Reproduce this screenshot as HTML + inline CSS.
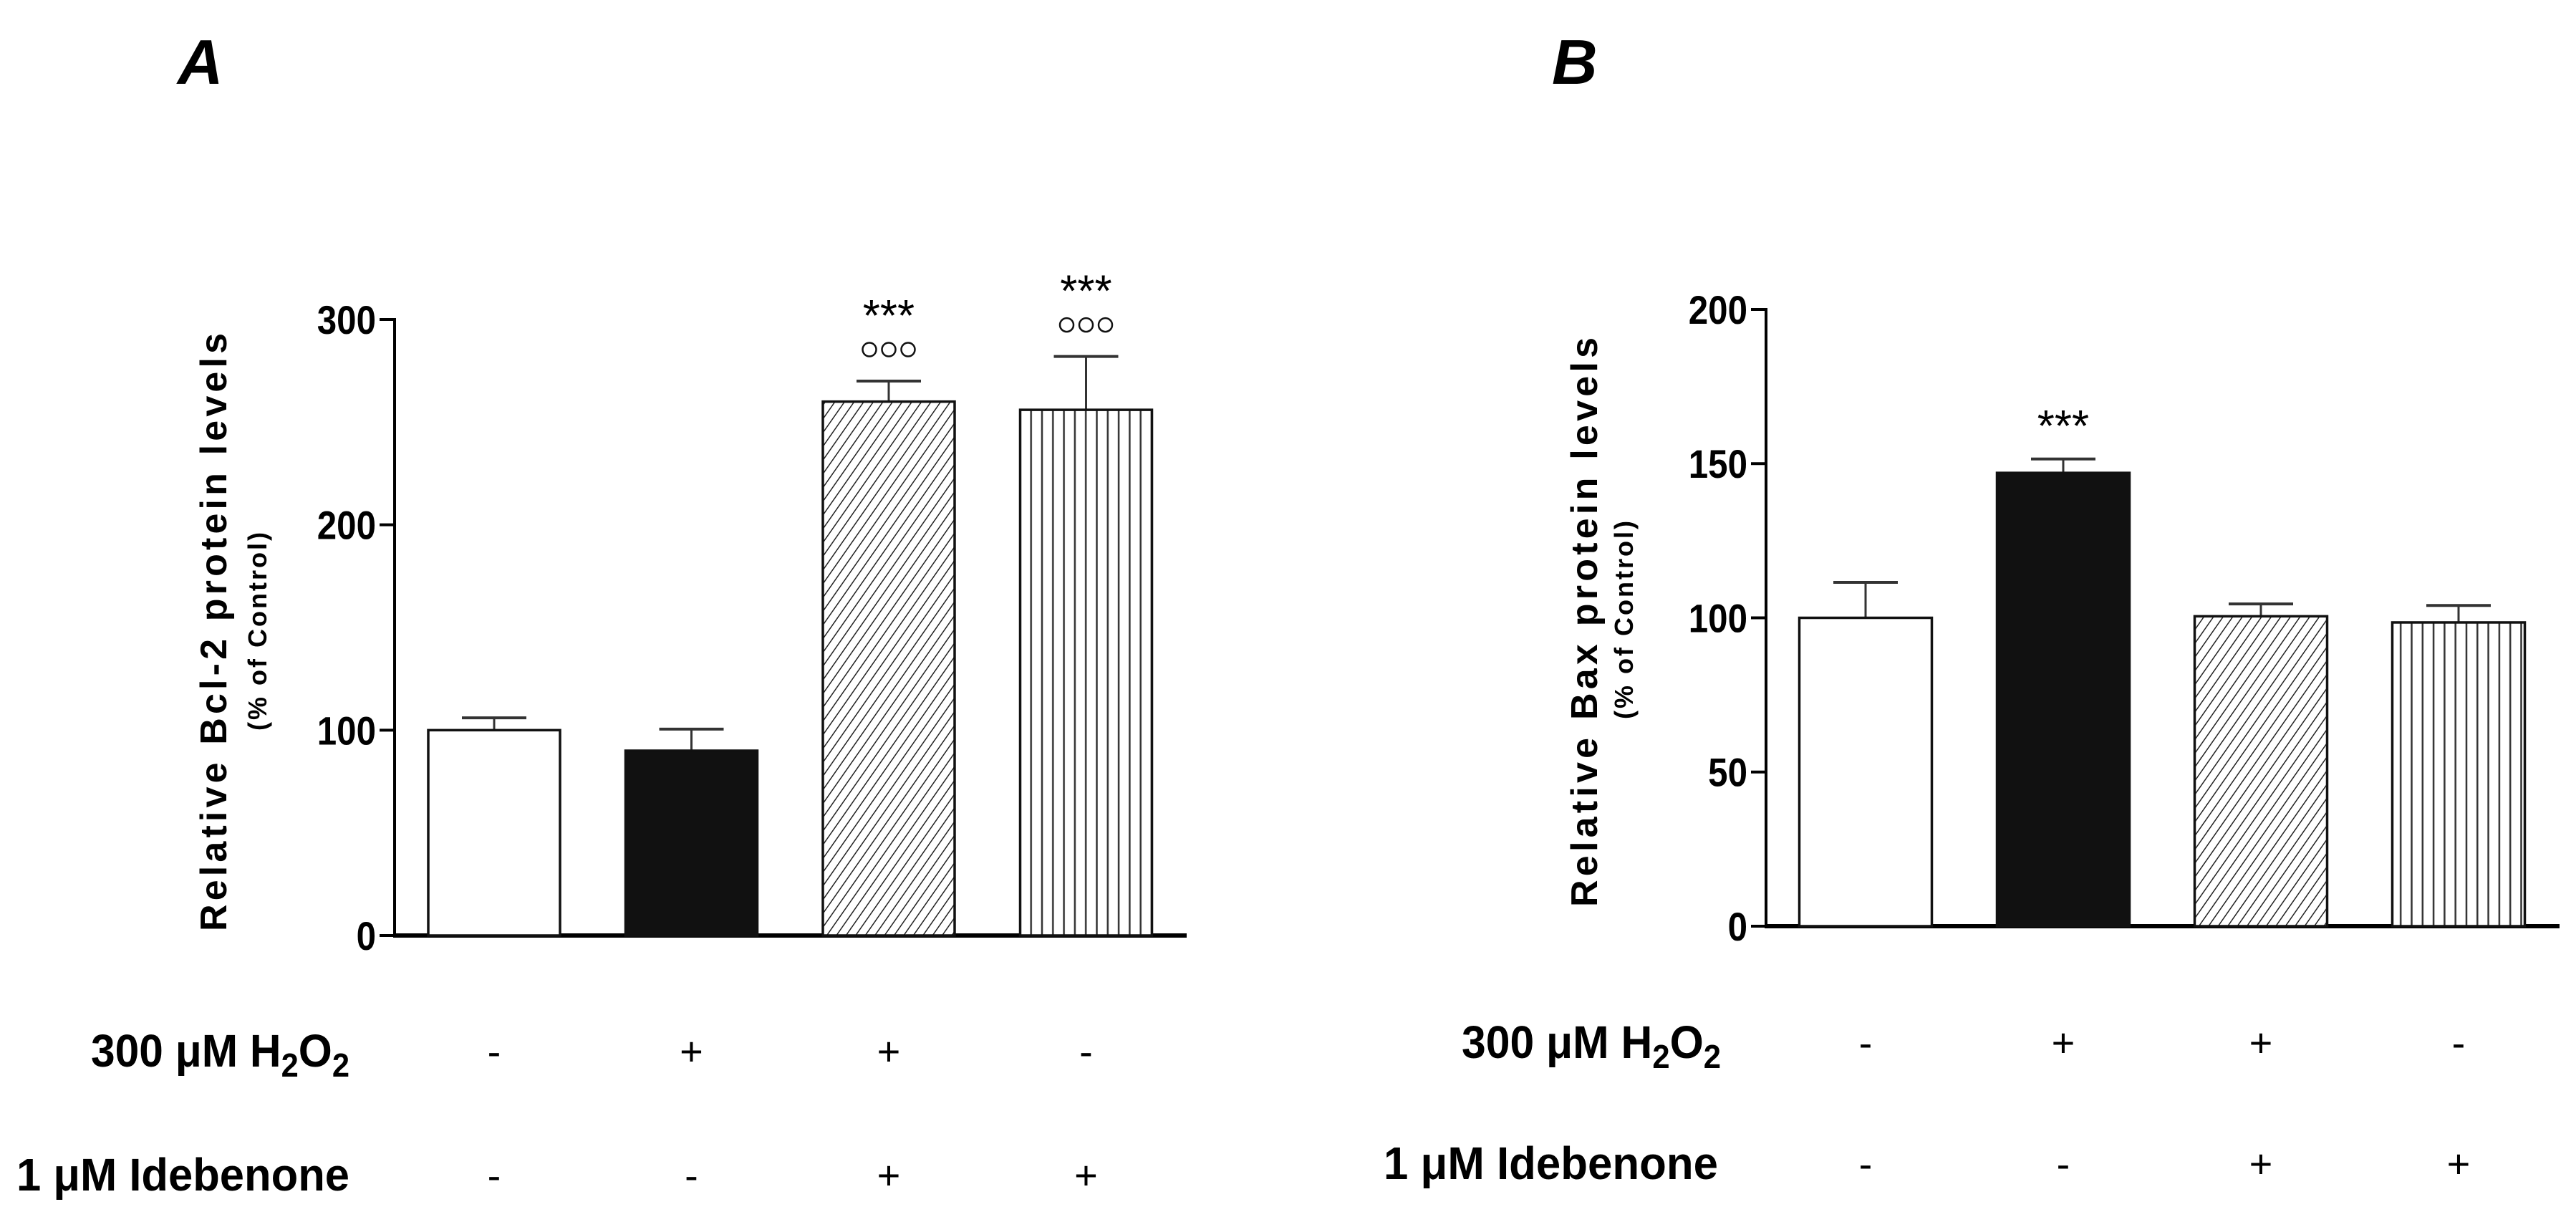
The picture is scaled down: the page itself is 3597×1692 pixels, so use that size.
<!DOCTYPE html>
<html><head><meta charset="utf-8"><style>
html,body{margin:0;padding:0;background:#fff;}
svg{display:block;font-family:"Liberation Sans",Arial,sans-serif;}
</style></head><body>
<svg id="fig" width="3597" height="1692" viewBox="0 0 3597 1692" xmlns="http://www.w3.org/2000/svg">
<defs>
<pattern id="diag" patternUnits="userSpaceOnUse" width="11" height="11" patternTransform="rotate(35)">
<rect width="11" height="11" fill="#fff"/><line x1="0" y1="0" x2="0" y2="11" stroke="#222" stroke-width="3"/></pattern>
<pattern id="vert" patternUnits="userSpaceOnUse" width="15.3" height="10">
<rect width="15.3" height="10" fill="#fff"/><line x1="1.5" y1="0" x2="1.5" y2="10" stroke="#333" stroke-width="2.5"/></pattern>
</defs>
<text x="248" y="117" font-size="88" font-weight="bold" font-style="italic">A</text>
<text x="2167" y="117" font-size="88" font-weight="bold" font-style="italic">B</text>
<g id="pA"></g>
<g id="pB"></g>
</svg>
<script>
const categories = ["Control","H2O2","H2O2+Idebenone","Idebenone"];
const bcl2Values = [100, 90, 260, 256];
const bcl2Errors = [106, 100.5, 270, 282];
const bcl2Ticks = [0, 100, 200, 300];
const bcl2Stars = ["", "", "***", "***"];
const bcl2Circles = ["", "", "ooo", "ooo"];
const baxValues = [100, 147, 100.5, 98.5];
const baxErrors = [111.5, 151.5, 104.5, 104];
const baxTicks = [0, 50, 100, 150, 200];
const baxStars = ["", "***", "", ""];
const baxCircles = ["", "", "", ""];
const h2o2Signs = ["-", "+", "+", "-"];
const ideSigns = ["-", "-", "+", "+"];
const fills = ["#fff", "#111", "url(#diag)", "url(#vert)"];

const NS = "http://www.w3.org/2000/svg";
function mk(parent, tag, attrs, txt){
  const e = document.createElementNS(NS, tag);
  for (const k in attrs) e.setAttribute(k, attrs[k]);
  if (txt !== undefined) e.textContent = txt;
  parent.appendChild(e); return e;
}

function draw(g, cfg, vals, errs, ticks, stars, circles, title){
  const yS = v => cfg.y0 - (v - 0) / (cfg.ymax) * (cfg.y0 - cfg.yTop);
  const xC = i => cfg.firstX + i * cfg.step;
  const ya = mk(g, "line", {x1:cfg.ax, y1:yS(cfg.ymax)-2, x2:cfg.ax, y2:cfg.y0, stroke:"#000","stroke-width":4});
  
  
  const xa = mk(g, "line", {x1:cfg.ax-2, y1:cfg.y0, x2:cfg.axEnd, y2:cfg.y0, stroke:"#000","stroke-width":6});
  
  
  ticks.forEach(t => {
    const tl = mk(g, "line", {x1:cfg.ax-21, y1:yS(t), x2:cfg.ax, y2:yS(t), stroke:"#000","stroke-width":4});
    
    
    const tx = mk(g, "text", {x:cfg.ax-26, y:yS(t)+20, "font-size":56, "font-weight":"bold", "text-anchor":"end", transform:`translate(${cfg.ax-26},0) scale(0.88,1) translate(${-(cfg.ax-26)},0)`}, String(t));
    
    
  });
  vals.forEach((v, i) => {
    const cx = xC(i);
    const eb = mk(g, "line", {x1:cx, y1:yS(v), x2:cx, y2:yS(errs[i]), stroke:"#333","stroke-width":3});
    
    
    const ec = mk(g, "line", {x1:cx-45, y1:yS(errs[i]), x2:cx+45, y2:yS(errs[i]), stroke:"#333","stroke-width":4});
    
    
    const r = mk(g, "rect", {x:cx-cfg.bw/2, y:yS(v), width:cfg.bw, height:cfg.y0-yS(v), fill:fills[i], stroke:"#111","stroke-width":3.5});
    
    
    if (stars[i]) {
      const top = yS(errs[i]);
      let starCenter;
      if (circles[i]) {
        const cy = top - 44;
        for (let k=-1;k<=1;k++){
          const c = mk(g, "circle", {cx:cx+k*27, cy:cy, r:9.5, fill:"none", stroke:"#111","stroke-width":2.5});
          
          
        }
        starCenter = top - 100;
      } else {
        starCenter = top - 55;
      }
      const st = mk(g, "text", {x:cx, y:starCenter+30, "font-size":62, "text-anchor":"middle"}, stars[i]);
      
      
    }
    const s1 = mk(g, "text", {x:cx, y:cfg.row1+20, "font-size":56, "text-anchor":"middle"}, h2o2Signs[i]);
    
    
    const s2 = mk(g, "text", {x:cx, y:cfg.row2+20, "font-size":56, "text-anchor":"middle"}, ideSigns[i]);
    
    
  });
  const tt = mk(g, "text", {x:0, y:0, "font-size":52, "font-weight":"bold", "text-anchor":"middle", "letter-spacing":"5", textLength:cfg.titleLen, lengthAdjust:"spacing", transform:`translate(${cfg.titleX},${cfg.titleY}) rotate(-90)`}, title);
  
  
  const st2 = mk(g, "text", {x:0, y:0, "font-size":36, "font-weight":"bold", "text-anchor":"middle", "letter-spacing":"3", transform:`translate(${cfg.subX},${cfg.subY}) rotate(-90)`}, "(% of Control)");
  
  
  const r1 = mk(g, "text", {x:cfg.r1x, y:cfg.row1+22, "font-size":64, "font-weight":"bold", textLength:cfg.r1w, lengthAdjust:"spacingAndGlyphs"});
  
  
  mk(r1, "tspan", {}, "300 \u03BCM H");
  mk(r1, "tspan", {dy:14, "font-size":46}, "2");
  mk(r1, "tspan", {dy:-14}, "O");
  mk(r1, "tspan", {dy:14, "font-size":46}, "2");
  const r2 = mk(g, "text", {x:cfg.r2x, y:cfg.row2+22, "font-size":64, "font-weight":"bold", textLength:cfg.r2w, lengthAdjust:"spacingAndGlyphs"}, "1 \u03BCM  Idebenone");
  
  
}

draw(document.getElementById("pA"), {ax:551, axEnd:1657, y0:1306, yTop:446, ymax:300, firstX:690, step:275.5, bw:184,
  row1:1467, row2:1640, titleX:316, titleY:880, titleLen:840, subX:372, subY:880, r1x:127, r1w:361, r2x:23, r2w:465},
  bcl2Values, bcl2Errors, bcl2Ticks, bcl2Stars, bcl2Circles, "Relative Bcl-2 protein levels");
draw(document.getElementById("pB"), {ax:2466, axEnd:3574, y0:1293, yTop:432, ymax:200, firstX:2605, step:276, bw:185,
  row1:1455, row2:1624, titleX:2230, titleY:866, titleLen:800, subX:2280, subY:864, r1x:2041, r1w:362, r2x:1932, r2w:467},
  baxValues, baxErrors, baxTicks, baxStars, baxCircles, "Relative Bax protein levels");
</script>
</body></html>
